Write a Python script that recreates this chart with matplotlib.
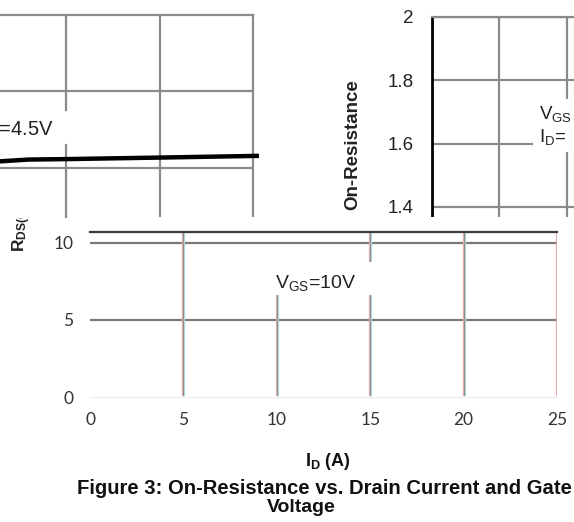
import matplotlib
matplotlib.use("Agg")
import matplotlib.pyplot as plt
from matplotlib.patches import Rectangle
from matplotlib.transforms import offset_copy

plt.rcParams['font.family'] = ['Liberation Sans', 'DejaVu Sans']
plt.rcParams['mathtext.default'] = 'regular'

# data
id_45 = [11.3, 13.0, 15.0, 20.0, 25.2]          # I_D (A), V_GS=4.5V curve
rds_45 = [15.42, 15.55, 15.58, 15.68, 15.79]    # R_DS(ON) (mOhm)
tl_xgrid = [15, 20]
tl_ygrid = [15, 20]
tr_yticks = [1.4, 1.6, 1.8, 2.0]
tr_ylabels = ['1.4', '1.6', '1.8', '2']
tr_xgrid = [-25, 0, 25, 50, 75]
bot_xticks = [0, 5, 10, 15, 20, 25]
bot_yticks = [0, 5, 10]

W, H = 574, 522
fig = plt.figure(figsize=(W / 100, H / 100), dpi=100)
grid_c = '#8a8a8a'


def box(x0, y0, x1, y1):
    # pixel box (top-left origin) -> figure fraction
    return [x0 / W, 1 - y1 / H, (x1 - x0) / W, (y1 - y0) / H]


# --- top right piece (normalized on-resistance) ---
ax_tr = fig.add_axes(box(432, 17, 800, 217))
ax_tr.set_zorder(1)
ax_tr.set_xlim(-50, 86.3)
ax_tr.set_ylim(1.368, 2.0)
for y in tr_yticks:
    ax_tr.axhline(y, color=grid_c, lw=1.6, zorder=1)
for x in tr_xgrid:
    ax_tr.axvline(x, color=grid_c, lw=1.6, zorder=1)
for s in ['right', 'bottom']:
    ax_tr.spines[s].set_visible(False)
ax_tr.spines['top'].set_color(grid_c)
ax_tr.spines['top'].set_linewidth(1.6)
ax_tr.spines['left'].set_color('black')
ax_tr.spines['left'].set_linewidth(2)
ax_tr.set_xticks([])
ax_tr.set_yticks(tr_yticks)
ax_tr.set_yticklabels(tr_ylabels)
ax_tr.tick_params(axis='y', length=0, pad=13, labelsize=13.5, labelcolor='#222222')
ax_tr.text(-50 + 107 / 2.7, 1.657, 'V$_{GS}$\nI$_{D}$=', fontsize=13.5,
           color='#222222', va='center', ha='left', linespacing=1.15,
           bbox=dict(facecolor='white', edgecolor='none', pad=4), zorder=3)

fig.text(353 / W, 1 - 145 / H, 'On-Resistance', rotation=90, fontsize=13.5,
         fontweight='bold', ha='center', va='center', color='#222222')

# R_DS label of the lower piece, partly hidden by the top-left piece
fig.text(22 / W, 1 - 252 / H, 'R$_{DS(ON)}$ (m$\\Omega$)', rotation=90,
         fontsize=12.5, fontweight='bold', ha='center', va='bottom',
         color='#222222', zorder=1)

# --- top left piece (V_GS=4.5V curve) ---
ax_tl = fig.add_axes(box(0, 15, 253, 218))
ax_tl.set_zorder(2)
ax_tl.set_xlim(11.47, 25)
ax_tl.set_ylim(11.73, 25)
for y in tl_ygrid:
    ax_tl.axhline(y, color=grid_c, lw=1.6, zorder=1)
ax_tl.axvline(tl_xgrid[0], ymax=0.359, color=grid_c, lw=1.6, zorder=1)
ax_tl.axvline(tl_xgrid[0], ymin=0.532, color=grid_c, lw=1.6, zorder=1)
ax_tl.axvline(tl_xgrid[1], color=grid_c, lw=1.6, zorder=1)
for s in ['left', 'bottom']:
    ax_tl.spines[s].set_visible(False)
for s in ['top', 'right']:
    ax_tl.spines[s].set_color(grid_c)
    ax_tl.spines[s].set_linewidth(1.6)
ax_tl.set_xticks([])
ax_tl.set_yticks([])
ax_tl.plot(id_45, rds_45, color='black', lw=3.2, zorder=4, clip_on=False)
ax_tl.text(14.35, 17.45, 'V$_{GS}$=4.5V', fontsize=14.5, color='#222222',
           ha='right', va='center', zorder=3)

# white strip between the pieces
fig.patches.append(Rectangle((95 / W, 1 - 231 / H), 480 / W, 14 / H,
                             transform=fig.transFigure, facecolor='white',
                             edgecolor='none', zorder=3))

# --- bottom piece (V_GS=10V) ---
ax = fig.add_axes(box(90, 232, 557, 397))
ax.set_zorder(4)
ax.set_xlim(0, 25)
ax.set_ylim(0, 10.7)
for y in bot_yticks[1:]:
    ax.axhline(y, color='#7a7a7a', lw=1.6, zorder=1)
xt = ax.get_xaxis_transform()
red_t = offset_copy(xt, fig=fig, x=-1.0, y=0, units='dots')
cyan_t = offset_copy(xt, fig=fig, x=1.0, y=0, units='dots')
for x in bot_xticks[1:]:
    top = 0.618 if x == 10 else 1
    ax.plot([x, x], [0.015, top], transform=red_t, color='#f7b4b4', lw=0.9, zorder=1)
    ax.plot([x, x], [0.015, top], transform=cyan_t, color='#b8ecec', lw=0.9, zorder=1)
    ax.plot([x, x], [0.015, top], transform=xt, color='#8f8f8f', lw=1.0, zorder=1)
for s in ['left', 'right']:
    ax.spines[s].set_visible(False)
ax.spines['bottom'].set_color('#ececec')
ax.spines['top'].set_color('#3a3a3a')
ax.spines['top'].set_linewidth(1.6)
ax.set_xticks(bot_xticks)
ax.set_yticks(bot_yticks)
ax.tick_params(length=0, labelsize=12.5, labelcolor='#333333')
ax.tick_params(axis='x', pad=11)
ax.tick_params(axis='y', pad=12)
for lab in ax.get_xticklabels() + ax.get_yticklabels():
    lab.set_family(['Lato', 'DejaVu Sans'])
# white label box hiding part of the grid
ax.add_patch(Rectangle((9.6, 6.6), 5.6, 2.15, facecolor='white',
                       edgecolor='none', zorder=2))
ax.text(9.9, 7.4, 'V$_{GS}$=10V', fontsize=14, color='#222222', ha='left',
        va='center', zorder=3)

fig.text(328 / W, 1 - 462 / H, 'I$_{D}$ (A)', fontsize=13, fontweight='bold',
         ha='center', va='center', color='#111111')
fig.text(572 / W, 1 - 488 / H,
         'Figure 3: On-Resistance vs. Drain Current and Gate',
         fontsize=14.6, fontweight='bold', ha='right', va='center', color='#111111')
fig.text(301 / W, 1 - 507 / H, 'Voltage', fontsize=14, fontweight='bold',
         ha='center', va='center', color='#111111')

fig.savefig('out.png', dpi=100)
